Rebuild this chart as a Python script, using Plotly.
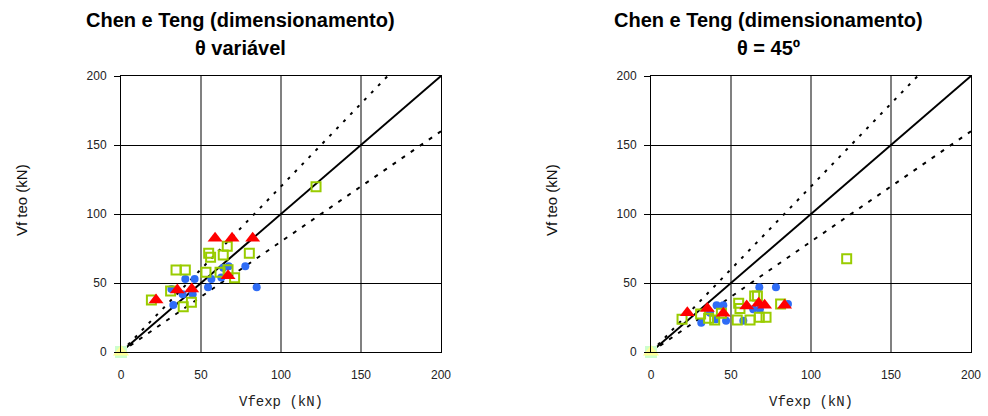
import plotly.graph_objects as go

# ---------------- data ----------------
# Left chart: theta variable
blue_x_l = [84.8, 77.7, 67.3, 63.9, 62.7, 56.5, 54.4, 46.0, 40.2, 38.5, 44.8, 31.5, 32.7]
blue_y_l = [46.9, 62.1, 62.1, 61.0, 53.9, 52.9, 46.9, 52.9, 52.9, 41.8, 41.8, 45.6, 34.0]
red_x_l = [21.9, 35.2, 44.2, 58.8, 69.4, 82.3, 66.9]
red_y_l = [37.7, 44.9, 45.6, 82.4, 82.4, 82.4, 55.3]
green_x_l = [19.0, 34.4, 40.2, 31.0, 38.9, 44.0, 53.1, 54.8, 56.0, 63.9, 66.4, 61.9, 66.9, 71.0, 80.2, 121.9]
green_y_l = [37.7, 59.4, 59.4, 44.2, 32.8, 36.0, 57.7, 71.5, 68.6, 70.3, 76.6, 57.7, 59.6, 53.8, 71.5, 119.8]

# Right chart: theta = 45
blue_x_r = [67.7, 78.1, 85.6, 63.9, 68.1, 57.7, 41.0, 45.2, 40.6, 46.9, 31.4, 36.9]
blue_y_r = [46.9, 46.9, 34.8, 30.9, 30.9, 22.7, 33.8, 33.8, 23.7, 22.7, 21.2, 28.5]
red_x_r = [22.7, 35.2, 45.2, 59.8, 67.3, 71.0, 83.5]
red_y_r = [28.5, 31.6, 28.0, 33.3, 35.3, 33.8, 33.8]
green_x_r = [19.4, 31.0, 36.0, 39.8, 44.0, 54.8, 55.6, 64.8, 66.5, 53.9, 61.9, 67.7, 71.9, 81.0, 122.3]
green_y_r = [23.7, 27.5, 24.4, 23.2, 28.0, 35.3, 31.6, 40.6, 40.6, 23.2, 23.2, 25.1, 25.1, 34.8, 67.6]

origin_x = [0]
origin_y = [0]

ref_x = [0, 200]
ref_y = [0, 200]
upper_factor = 1.2
lower_factor = 0.8

tick_vals = [0, 50, 100, 150, 200]
tick_text = ["0", "50", "100", "150", "200"]

titles_left = ["Chen e Teng (dimensionamento)", "θ variável"]
titles_right = ["Chen e Teng (dimensionamento)", "θ = 45º"]
x_title = "Vfexp (kN)"
y_title = "Vf teo (kN)"

# ---------------- figure ----------------
fig = go.Figure()

BLUE = "#2f6cf6"
RED = "#ff0000"
GREEN = "#99cc00"


def add_panel(xa, ya, bx, by, rx, ry, gx, gy):
    # reference lines
    fig.add_trace(go.Scatter(x=ref_x, y=ref_y, mode="lines",
                             line=dict(color="black", width=2),
                             xaxis=xa, yaxis=ya, showlegend=False, hoverinfo="skip"))
    fig.add_trace(go.Scatter(x=[0, 200 / upper_factor], y=[0, 200], mode="lines",
                             line=dict(color="black", width=2, dash="3px,7px"),
                             xaxis=xa, yaxis=ya, showlegend=False, hoverinfo="skip"))
    fig.add_trace(go.Scatter(x=[0, 200], y=[0, 200 * lower_factor], mode="lines",
                             line=dict(color="black", width=2, dash="4px,7px"),
                             xaxis=xa, yaxis=ya, showlegend=False, hoverinfo="skip"))
    # origin markers
    fig.add_trace(go.Scatter(x=origin_x, y=origin_y, mode="markers",
                             marker=dict(symbol="square", size=12, color="#ccffcc"),
                             xaxis=xa, yaxis=ya, showlegend=False, cliponaxis=False))
    fig.add_trace(go.Scatter(x=origin_x, y=origin_y, mode="markers",
                             marker=dict(symbol="triangle-up", size=14, color="#ffff99"),
                             xaxis=xa, yaxis=ya, showlegend=False, cliponaxis=False))
    # data
    fig.add_trace(go.Scatter(x=bx, y=by, mode="markers",
                             marker=dict(symbol="circle", size=8, color=BLUE),
                             xaxis=xa, yaxis=ya, showlegend=False))
    fig.add_trace(go.Scatter(x=gx, y=gy, mode="markers",
                             marker=dict(symbol="square-open", size=9, color=GREEN,
                                         line=dict(width=2, color=GREEN)),
                             xaxis=xa, yaxis=ya, showlegend=False))
    fig.add_trace(go.Scatter(x=rx, y=ry, mode="markers",
                             marker=dict(symbol="triangle-up", size=13, color=RED),
                             xaxis=xa, yaxis=ya, showlegend=False))


add_panel("x", "y", blue_x_l, blue_y_l, red_x_l, red_y_l, green_x_l, green_y_l)
add_panel("x2", "y2", blue_x_r, blue_y_r, red_x_r, red_y_r, green_x_r, green_y_r)

W, H = 988, 416
y_dom = [1 - 352 / H, 1 - 76 / H]
tick_font = dict(family="Liberation Sans, Arial, sans-serif", size=12, color="#222222")
xt_font = dict(family="Liberation Mono, Courier New, monospace", size=14, color="#222222")
yt_font = dict(family="Liberation Sans, Arial, sans-serif", size=15, color="#111111")


def xaxis_cfg(dom, anchor):
    return dict(domain=dom, anchor=anchor, range=[0, 200], tickvals=tick_vals, ticktext=tick_text,
                showgrid=True, gridcolor="#808080", gridwidth=2, zeroline=False,
                showline=True, linecolor="black", linewidth=1, mirror=True,
                ticks="", tickfont=tick_font, fixedrange=True, automargin=False,
                ticklabelstandoff=12)


def yaxis_cfg(anchor):
    return dict(domain=y_dom, anchor=anchor, range=[0, 200], tickvals=tick_vals, ticktext=tick_text,
                showgrid=True, gridcolor="black", gridwidth=1, zeroline=False,
                showline=True, linecolor="black", linewidth=1, mirror=True,
                ticks="outside", ticklen=6, tickcolor="black", tickfont=tick_font,
                fixedrange=True, automargin=False, ticklabelstandoff=5)


fig.update_layout(
    width=W, height=H,
    margin=dict(l=0, r=0, t=0, b=0, autoexpand=False),
    paper_bgcolor="white", plot_bgcolor="white",
    xaxis=xaxis_cfg([121 / W, 441 / W], "y"),
    yaxis=yaxis_cfg("x"),
    xaxis2=xaxis_cfg([651 / W, 971 / W], "y2"),
    yaxis2=yaxis_cfg("x2"),
    showlegend=False,
)

title_font = dict(family="Liberation Sans, Arial, sans-serif", size=20, color="black")
for cx, lines in [(240 / W, titles_left), (768 / W, titles_right)]:
    for i, t in enumerate(lines):
        fig.add_annotation(x=cx, y=1 - (20 + 28 * i) / H, xref="paper", yref="paper",
                           text="<b>" + t + "</b>", showarrow=False, font=title_font,
                           xanchor="center", yanchor="middle")

# axis titles
for px_x in (281, 811):
    fig.add_annotation(x=px_x / W, y=1 - 402 / H, xref="paper", yref="paper",
                       text=x_title, showarrow=False, font=xt_font,
                       xanchor="center", yanchor="middle")
for px_x in (21, 551):
    fig.add_annotation(x=px_x / W, y=1 - 200 / H, xref="paper", yref="paper",
                       text=y_title, showarrow=False, font=yt_font, textangle=-90,
                       xanchor="center", yanchor="middle")

fig.write_html("out.html")
